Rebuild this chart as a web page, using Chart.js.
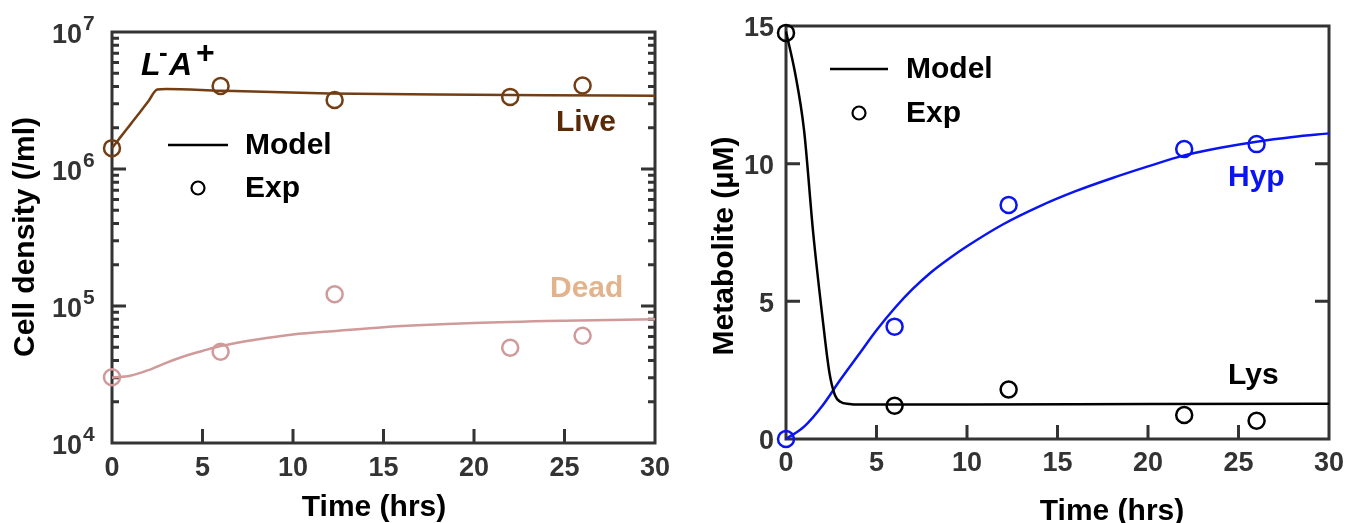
<!DOCTYPE html>
<html>
<head>
<meta charset="utf-8">
<script src="https://cdn.jsdelivr.net/npm/chart.js@4/dist/chart.umd.min.js"></script>
<style>
  body { margin: 0; background: #fff; width: 1348px; height: 523px; overflow: hidden; position: relative; }
  .panel { position: absolute; top: 0; width: 674px; height: 523px; }
</style>
</head>
<body>
<div class="panel" style="left:0"><canvas id="cellChart" width="674" height="523"></canvas></div>
<div class="panel" style="left:674px"><canvas id="metabChart" width="674" height="523"></canvas></div>
<script>
// sampling times of the experiments (hrs)
const expTimes = [0, 6, 12.3, 22, 26];

// cell densities (/ml)
const liveExp = [1.42e6, 4.04e6, 3.19e6, 3.36e6, 4.07e6];
const deadExp = [3.02e4, 4.64e4, 1.22e5, 4.96e4, 6.07e4];
const liveModelT = [0, 0.5, 1, 1.5, 2, 2.5, 3, 6, 12, 18, 24, 30];
const liveModel = [1.42e6, 1.73e6, 2.10e6, 2.55e6, 3.11e6, 3.80e6, 3.84e6, 3.73e6, 3.56e6, 3.50e6, 3.46e6, 3.43e6];
const deadModelT = [0, 1, 2, 3, 4, 5, 6, 8, 10, 12.5, 15, 20, 25, 30];
const deadModel = [3.0e4, 3.1e4, 3.4e4, 3.85e4, 4.3e4, 4.7e4, 5.1e4, 5.7e4, 6.2e4, 6.6e4, 7.0e4, 7.5e4, 7.8e4, 8.0e4];

// metabolites (uM)
const lysExp = [14.75, 1.21, 1.80, 0.87, 0.66];
const hypExp = [0.0, 4.08, 8.50, 10.53, 10.71];
const lysModelT = [0, 0.5, 1.0, 1.5, 2.0, 2.4, 2.7, 3.0, 3.5, 4, 10, 20, 30];
const lysModel = [14.8, 13.3, 11.2, 7.5, 4.5, 2.4, 1.6, 1.35, 1.27, 1.25, 1.25, 1.27, 1.28];
const hypModelT = [0, 1, 2, 3, 4, 5, 6, 7, 8, 9, 10, 12, 14, 16, 18, 20, 22, 24, 26, 28, 30];
const hypModel = [0, 0.45, 1.2, 2.15, 3.05, 3.95, 4.75, 5.45, 6.05, 6.55, 7.0, 7.8, 8.45, 9.0, 9.47, 9.9, 10.3, 10.58, 10.8, 10.97, 11.1];

// axis ticks
const timeTicks = [0, 5, 10, 15, 20, 25, 30];
const densityDecades = [4, 5, 6, 7];
const metabTicks = [0, 5, 10, 15];

const AXIS = '#333333';
const FONT = '"Liberation Sans", Arial, sans-serif';
const LIVE = '#733e14';
const DEAD = '#d09a9a';
const BLUE = '#0a14f0';

const zip = (xs, ys) => xs.map((x, i) => ({ x: x, y: ys[i] }));

function modelSet(t, v, color) {
  return {
    type: 'line', data: zip(t, v), borderColor: color, borderWidth: 2.5,
    pointRadius: 0, cubicInterpolationMode: 'monotone', fill: false, clip: false
  };
}
function expSet(v, color) {
  return {
    type: 'scatter', data: zip(expTimes, v), borderColor: color, borderWidth: 2.5,
    backgroundColor: 'rgba(0,0,0,0)', pointRadius: 8, pointStyle: 'circle', clip: false
  };
}

// box, inward ticks and all the text are drawn here
const panelFrame = {
  id: 'panelFrame',
  beforeDatasetsDraw(chart, args, o) {
    const { ctx, chartArea: a, scales: { x, y } } = chart;
    ctx.save();
    ctx.strokeStyle = AXIS;
    ctx.lineWidth = 3;
    ctx.strokeRect(a.left, a.top, a.right - a.left, a.bottom - a.top);
    ctx.beginPath();
    timeTicks.forEach(v => {
      if (v <= x.min || v >= x.max) return;
      const px = x.getPixelForValue(v);
      ctx.moveTo(px, a.bottom); ctx.lineTo(px, a.bottom - 14);
    });
    const yTick = (v, len) => {
      const py = y.getPixelForValue(v);
      ctx.moveTo(a.left, py); ctx.lineTo(a.left + len, py);
      ctx.moveTo(a.right, py); ctx.lineTo(a.right - len, py);
    };
    o.yMajor.forEach(v => yTick(v, 14));
    (o.yMinor || []).forEach(v => yTick(v, 7));
    ctx.stroke();
    ctx.restore();
  },
  afterDraw(chart, args, o) {
    const { ctx, chartArea: a, scales: { x, y } } = chart;
    ctx.save();
    ctx.fillStyle = AXIS;
    ctx.font = 'bold 27px ' + FONT;
    ctx.textAlign = 'center';
    ctx.textBaseline = 'middle';
    timeTicks.forEach(v => ctx.fillText(String(v), x.getPixelForValue(v), a.bottom + o.xLabelGap));
    o.drawYLabels(ctx, y);

    // axis titles
    ctx.fillStyle = '#000';
    ctx.font = 'bold 30px ' + FONT;
    ctx.textBaseline = 'alphabetic';
    ctx.fillText('Time (hrs)', o.xTitle[0], o.xTitle[1]);
    ctx.save();
    ctx.translate(o.yTitle[0], o.yTitle[1]);
    ctx.rotate(-Math.PI / 2);
    ctx.fillText(o.yTitleText, 0, 0);
    ctx.restore();

    // legend
    const lg = o.legend;
    ctx.strokeStyle = '#000';
    ctx.lineWidth = 2.5;
    ctx.beginPath();
    ctx.moveTo(lg.x0, lg.y0); ctx.lineTo(lg.x1, lg.y0);
    ctx.stroke();
    ctx.lineWidth = 2.2;
    ctx.beginPath();
    ctx.arc((lg.x0 + lg.x1) / 2, lg.y1, 6.5, 0, Math.PI * 2);
    ctx.stroke();
    ctx.textAlign = 'left';
    ctx.textBaseline = 'middle';
    ctx.fillText('Model', lg.tx, lg.y0 + 1);
    ctx.fillText('Exp', lg.tx, lg.y1 + 1);

    // curve names
    o.names.forEach(n => {
      ctx.fillStyle = n.color;
      ctx.fillText(n.text, n.x, n.y);
    });
    if (o.extra) o.extra(ctx);
    ctx.restore();
  }
};

const minorDecades = [];
[4, 5, 6].forEach(d => { for (let k = 2; k <= 9; k++) minorDecades.push(k * Math.pow(10, d)); });

function baseOptions(padTop, xHeight, yScale, frame) {
  return {
    responsive: false,
    animation: false,
    layout: { padding: { left: 0, right: 19, top: padTop, bottom: 0 } },
    scales: {
      x: {
        type: 'linear', min: 0, max: 30,
        ticks: { display: false }, grid: { display: false }, border: { display: false },
        afterFit: s => { s.height = xHeight; }
      },
      y: Object.assign({
        ticks: { display: false }, grid: { display: false }, border: { display: false },
        afterFit: s => { s.width = 112; }
      }, yScale)
    },
    plugins: { legend: { display: false }, tooltip: { enabled: false }, panelFrame: frame }
  };
}

new Chart(document.getElementById('cellChart'), {
  data: {
    datasets: [
      modelSet(liveModelT, liveModel, LIVE),
      modelSet(deadModelT, deadModel, DEAD),
      expSet(liveExp, LIVE),
      expSet(deadExp, DEAD)
    ]
  },
  options: baseOptions(32, 80, { type: 'logarithmic', min: 1e4, max: 1e7 }, {
    yMajor: [1e5, 1e6],
    yMinor: minorDecades,
    xLabelGap: 26,
    xTitle: [374, 516],
    yTitle: [34, 237],
    yTitleText: 'Cell density (/ml)',
    legend: { x0: 168, x1: 228, y0: 145, y1: 188, tx: 245 },
    names: [
      { text: 'Live', x: 556, y: 123, color: '#5a2a08' },
      { text: 'Dead', x: 550, y: 289, color: '#e3b48c' }
    ],
    drawYLabels(ctx, y) {
      densityDecades.forEach(d => {
        const py = y.getPixelForValue(Math.pow(10, d));
        ctx.font = 'bold 27px ' + FONT;
        ctx.textAlign = 'right';
        ctx.fillText('10', 82, py + 4);
        ctx.font = 'bold 21px ' + FONT;
        ctx.textAlign = 'left';
        ctx.fillText(String(d), 83, py - 8);
      });
      ctx.textAlign = 'center';
    },
    extra(ctx) {
      // strain label L-A+
      ctx.fillStyle = '#000';
      ctx.textAlign = 'left';
      ctx.textBaseline = 'alphabetic';
      ctx.font = 'italic bold 32px ' + FONT;
      ctx.fillText('L', 141, 75);
      ctx.fillText('A', 169, 75);
      ctx.font = 'bold 26px ' + FONT;
      ctx.fillText('-', 159, 61);
      ctx.font = 'bold 32px ' + FONT;
      ctx.fillText('+', 196, 63);
    }
  }),
  plugins: [panelFrame]
});

new Chart(document.getElementById('metabChart'), {
  data: {
    datasets: [
      modelSet(lysModelT, lysModel, '#000'),
      modelSet(hypModelT, hypModel, BLUE),
      expSet(lysExp, '#000'),
      expSet(hypExp, BLUE)
    ]
  },
  options: baseOptions(26, 84, { type: 'linear', min: 0, max: 15 }, {
    yMajor: [5, 10],
    xLabelGap: 25,
    xTitle: [438, 520],
    yTitle: [59, 246],
    yTitleText: 'Metabolite (\u00b5M)',
    legend: { x0: 156, x1: 214, y0: 69, y1: 113, tx: 232 },
    names: [
      { text: 'Hyp', x: 554, y: 178, color: BLUE },
      { text: 'Lys', x: 554, y: 376, color: '#000' }
    ],
    drawYLabels(ctx, y) {
      ctx.textAlign = 'right';
      metabTicks.forEach(v => ctx.fillText(String(v), 100, y.getPixelForValue(v) + 3));
      ctx.textAlign = 'center';
    }
  }),
  plugins: [panelFrame]
});
</script>
</body>
</html>
